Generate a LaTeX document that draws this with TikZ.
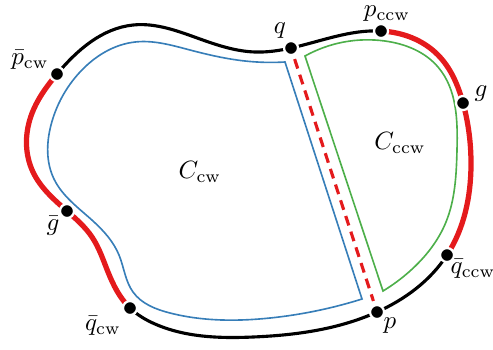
\documentclass[tikz,border=0pt]{standalone}
\usetikzlibrary{calc,hobby}
\definecolor{sred}{RGB}{228,26,28}
\definecolor{sblue}{RGB}{55,126,184}
\definecolor{sgreen}{RGB}{77,175,74}
\tikzset{
  dot/.style={circle,fill=black,draw=white,line width=0.9pt,inner sep=0pt,minimum size=5.6pt},
  outerline/.style={line width=1.25pt,black},
  redpart/.style={line width=2.1pt,sred},
  thinblue/.style={line width=0.65pt,sblue,line join=miter},
  thingreen/.style={line width=0.65pt,sgreen,line join=miter},
  reddash/.style={line width=1.25pt,sred,dash pattern=on 4pt off 2.6pt,shorten <=1.4pt,shorten >=1.4pt},
  lbl/.style={inner sep=0pt}
}
\begin{document}
\begin{tikzpicture}[x=0.4pt,y=-0.4pt]
\useasboundingbox (0,0) rectangle (493,349);
% positions of the marked points
\coordinate (Pcw) at (57,74);
\coordinate (Q) at (291,48);
\coordinate (Pccw) at (381,31);
\coordinate (G) at (463,103);
\coordinate (Qccw) at (447,255);
\coordinate (P) at (377,312);
\coordinate (Qcw) at (130,308);
\coordinate (Gb) at (67,211);
\newcommand\outerpath{(Pcw) .. (133,25) .. (200,39) .. (255,52) .. (Q) .. (Pccw) .. (438,55) .. (G) .. (471,165) .. (Qccw) .. (P) .. (253,337) .. (155,324) .. (Qcw) .. (108,272) .. (92,237) .. (Gb) .. (33,172) .. (31,116)}
% blue region C_cw
\draw[thinblue,use Hobby shortcut] (362,299) .. (270,318) .. (170,313) .. (133,292) .. (119,255) .. (93,221) .. (54,179) .. (51,125) .. (80,72) .. (135,42) .. (190,50) .. (245,61) .. (285,62) -- cycle;
% green region C_ccw
\draw[thingreen,use Hobby shortcut] (305,56) .. (385,41) .. (438,67) .. (457,150) .. (446,222) .. (410,271) .. (383,291) -- cycle;
% outer curve
\draw[outerline,use Hobby shortcut,closed=true] \outerpath;
\begin{scope}
  \clip (-10,74) -- (57,74) -- (150,200) -- (150,308) -- (-10,308) -- cycle;
  \draw[redpart,use Hobby shortcut,closed=true] \outerpath;
\end{scope}
\begin{scope}
  \clip (381,-10) -- (381,255) -- (510,255) -- (510,-10) -- cycle;
  \draw[redpart,use Hobby shortcut,closed=true] \outerpath;
\end{scope}
% dots
\node[dot] (pcw) at (Pcw) {};
\node[dot] (q) at (Q) {};
\node[dot] (pccw) at (Pccw) {};
\node[dot] (g) at (G) {};
\node[dot] (qccw) at (Qccw) {};
\node[dot] (p) at (P) {};
\node[dot] (qcw) at (Qcw) {};
\node[dot] (gb) at (Gb) {};
% dashed chord
\draw[reddash] (q) -- (p);
% labels
\node[lbl] (lpcw) at (30,60) {$\bar{p}_{\mathrm{cw}}$};
\node[lbl] (lq) at (280,31) {$q$};
\node[lbl] (lpccw) at (387,14) {$p_{\mathrm{ccw}}$};
\node[lbl] (lg) at (481,94) {$g$};
\node[lbl] (lCccw) at (400,143) {$C_{\mathrm{ccw}}$};
\node[lbl] (lCcw) at (200,172) {$C_{\mathrm{cw}}$};
\node[lbl] (lgb) at (53,226) {$\bar{g}$};
\node[lbl] (lqcw) at (103,326) {$\bar{q}_{\mathrm{cw}}$};
\node[lbl] (lp) at (390,326) {$p$};
\node[lbl] (lqccw) at (473,269) {$\bar{q}_{\mathrm{ccw}}$};
\end{tikzpicture}
\end{document}
